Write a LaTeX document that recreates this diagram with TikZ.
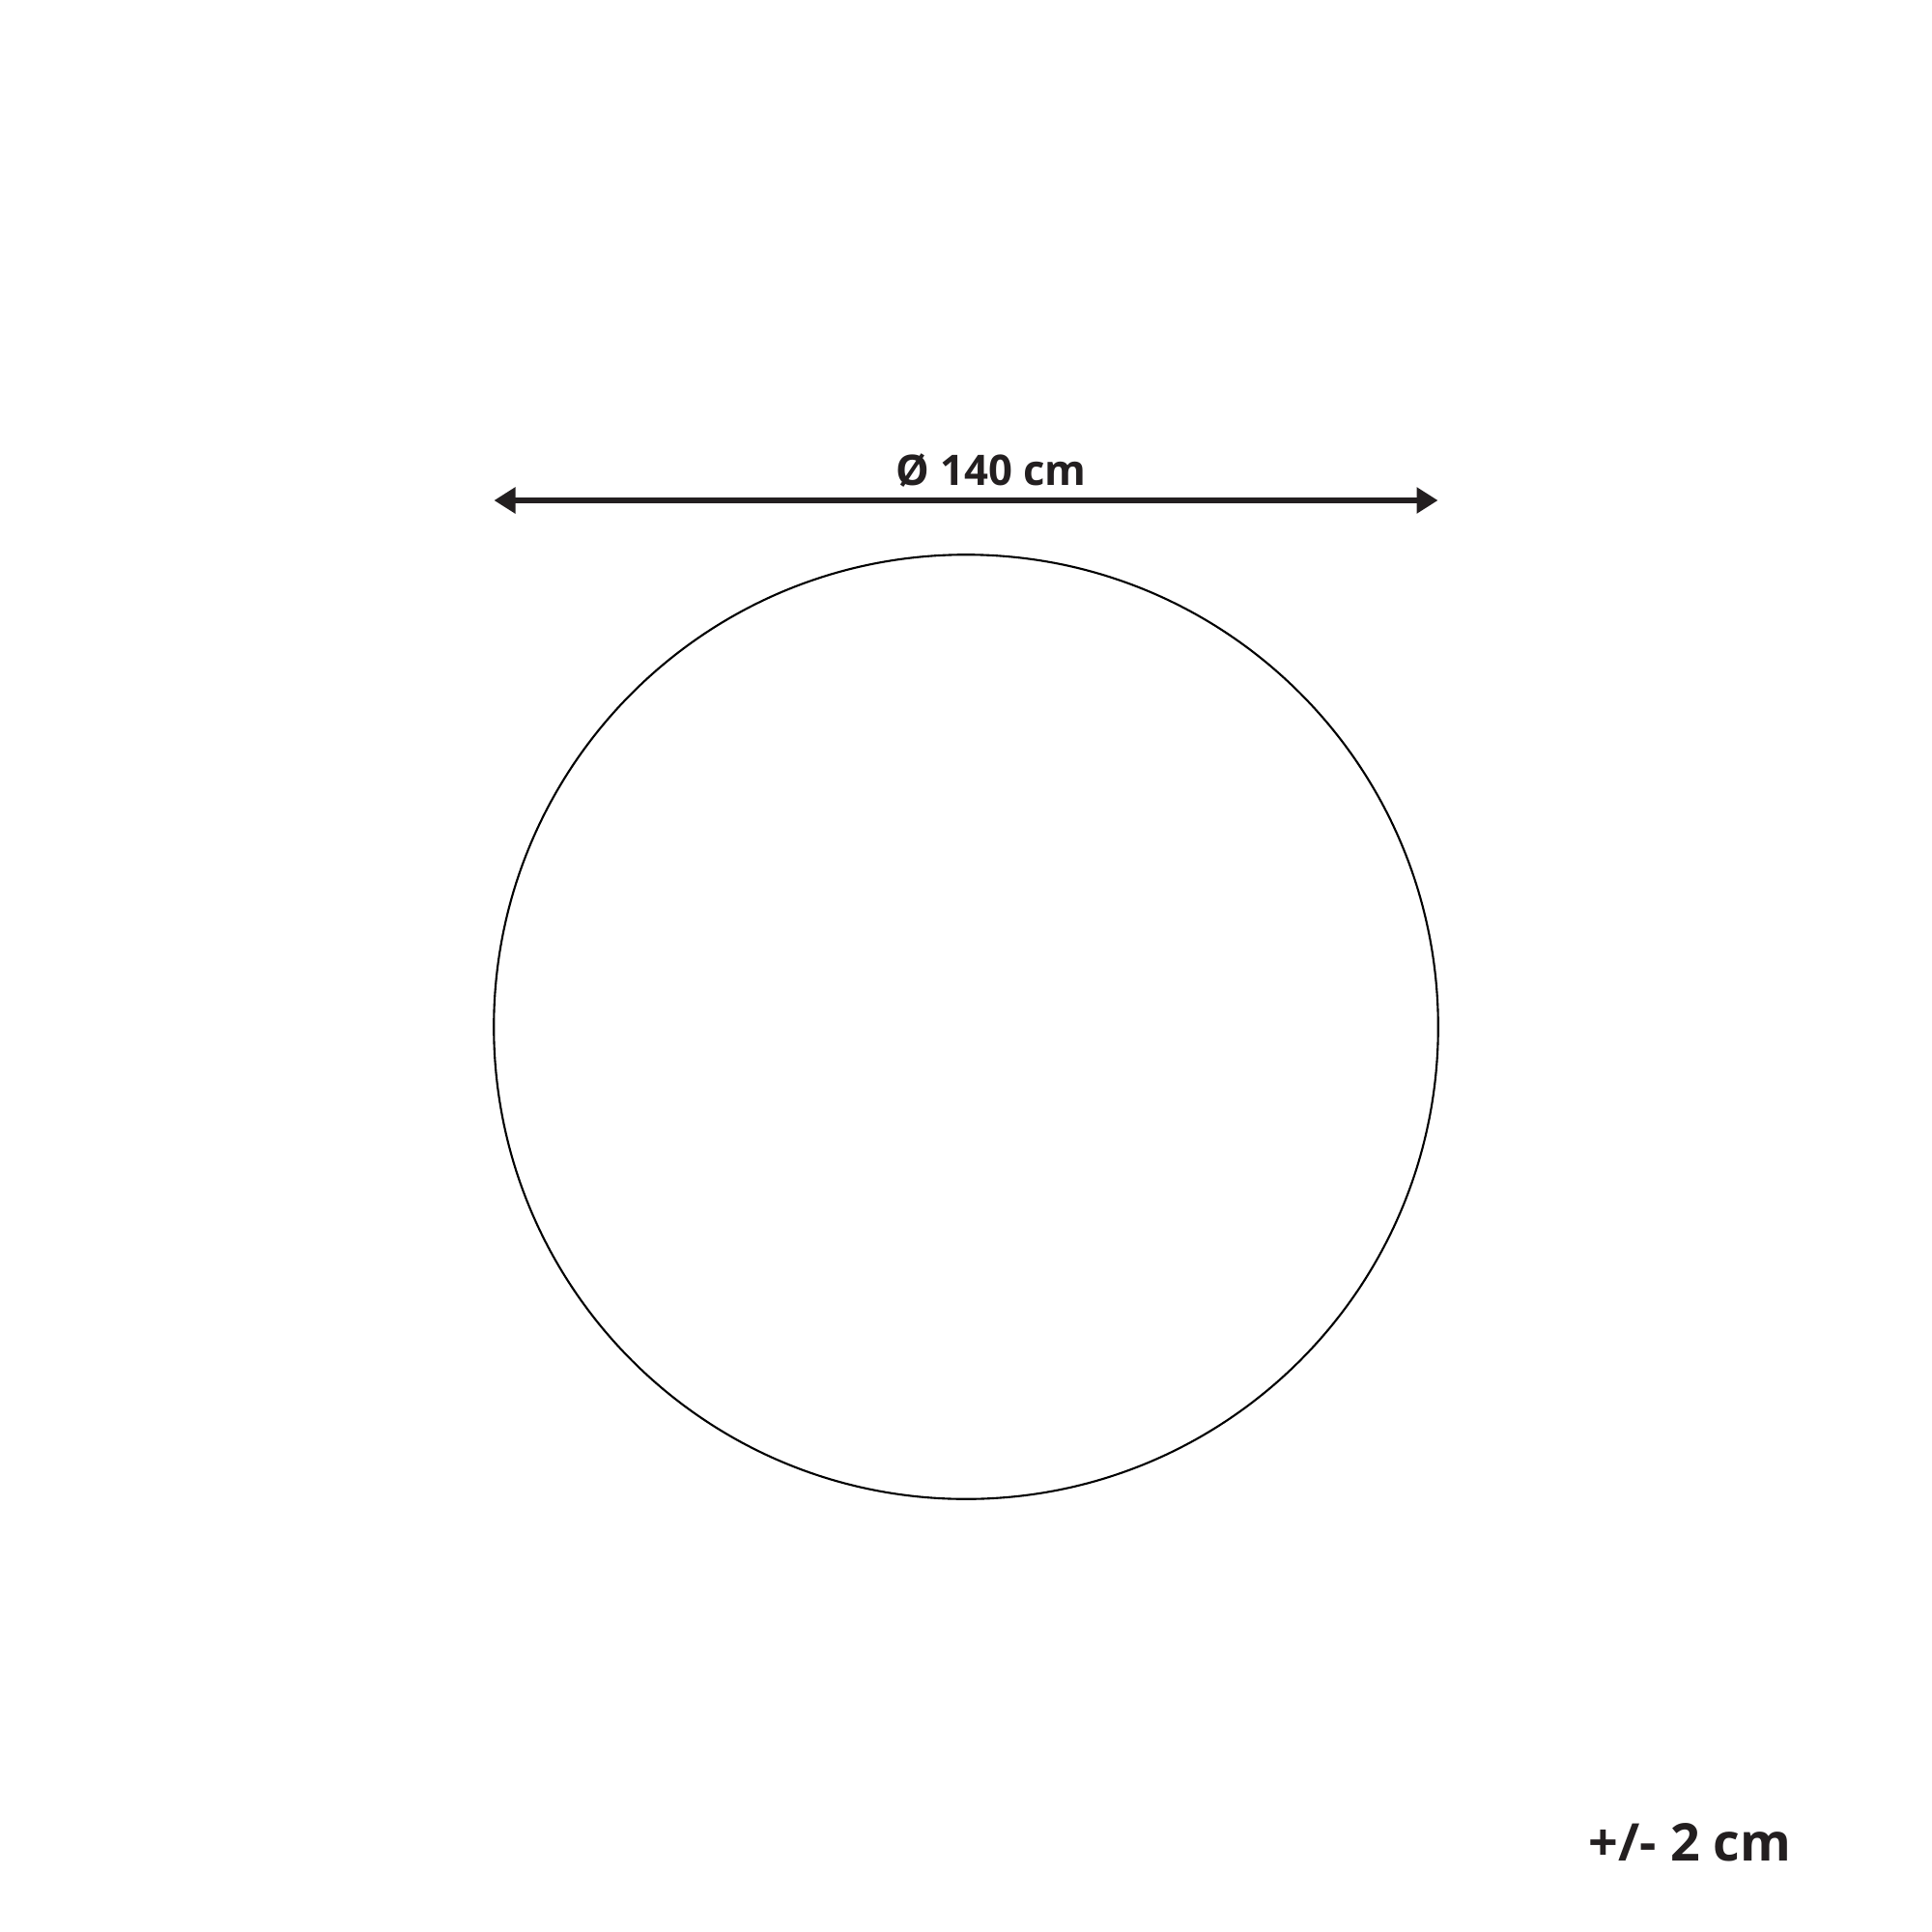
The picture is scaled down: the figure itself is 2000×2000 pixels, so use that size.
\documentclass[tikz,border=0pt]{standalone}
\usepackage{fontspec}
\setmainfont{Open Sans}
\usetikzlibrary{arrows.meta}
\definecolor{ink}{HTML}{231F20}
\tikzset{
  dimline/.style={draw=ink, line width=1.7pt, {Triangle[length=0.22cm,width=0.26cm]}-{Triangle[length=0.22cm,width=0.26cm]}},
  outline/.style={draw=black, line width=0.6pt},
  dimlabel/.style={inner sep=0pt, text=ink, font=\fontsize{12.4pt}{14pt}\selectfont\bfseries},
  tollabel/.style={inner sep=0pt, text=ink, font=\fontsize{15.3pt}{17pt}\selectfont\bfseries}
}
\begin{document}
\begin{tikzpicture}[x=0.01cm,y=-0.01cm]
  \useasboundingbox[fill=white] (0,0) rectangle (2000,2000);
  \coordinate (L) at (511.5,518);
  \coordinate (R) at (1488.5,518);
  \draw[dimline] (L) -- (R);
  \node[dimlabel, anchor=base] (dim) at (1026,502) {Ø 140 cm};
  \node[outline, circle, minimum size=9.77cm, inner sep=0pt] (rug) at (1000,1063) {};
  \node[tollabel, anchor=base east] (tol) at (1855,1926) {+/- 2 cm};
\end{tikzpicture}
\end{document}
